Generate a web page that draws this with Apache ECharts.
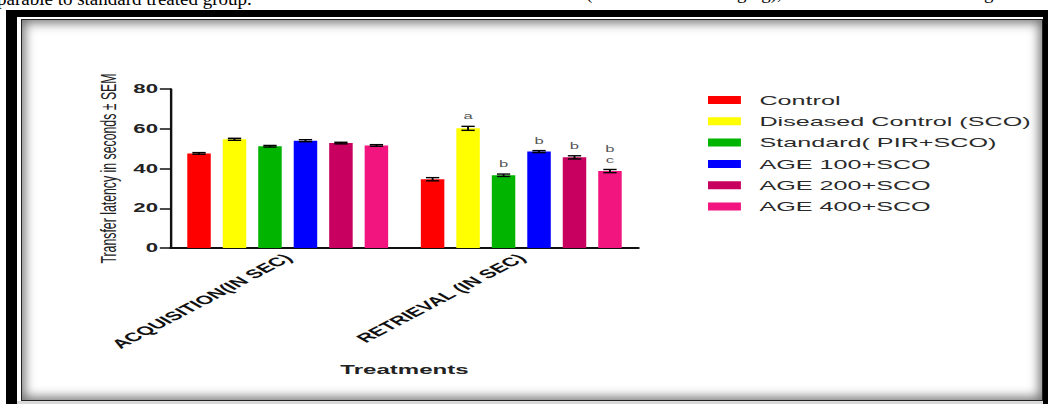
<!DOCTYPE html>
<html>
<head>
<meta charset="utf-8">
<script src="https://cdn.jsdelivr.net/npm/echarts@6/dist/echarts.min.js"></script>
<style>
  html, body { margin: 0; padding: 0; background: #fff; }
  body { width: 1048px; height: 404px; position: relative; overflow: hidden; }
  .txt { position: absolute; font-family: "Liberation Serif", "DejaVu Serif", serif; font-size: 19px; line-height: 19px; color: #000; white-space: nowrap; }
  #outer { position: absolute; left: 6px; top: 10px; right: 0; bottom: 0; background: #000; }
  #gap { position: absolute; left: 17px; top: 17px; right: 5px; bottom: 0; background: #fff; border-bottom: 3px solid #d9d9d9; box-sizing: border-box; }
  #panel { position: absolute; left: 21px; top: 19px; right: 5px; bottom: 3px; background: #fff;
           border: 1px solid #222; box-sizing: border-box;
           box-shadow: inset 0 0 11px 3px rgba(0,0,0,0.55); }
  #chart { position: absolute; left: 0; top: 0; width: 566.5px; height: 404px;
           transform: scaleX(1.85); transform-origin: 0 0; z-index: 2; }
</style>
</head>
<body>
<div class="txt" style="left:-3px; top:-11px;">parable to standard treated group.</div>
<div class="txt" style="left:586px; top:-17px;">(</div>
<div class="txt" style="left:737px; top:-17px;">ging),</div>
<div class="txt" style="left:984px; top:-17px;">g</div>
<div id="outer"></div>
<div id="gap"></div>
<div id="panel"></div>
<div id="chart"></div>
<script>
// Transfer latency (s, mean ± SEM) per treatment group
const categories = ['ACQUISITION(IN SEC)', 'RETRIEVAL (IN SEC)'];
const groupNames = ['Control', 'Diseased Control (SCO)', 'Standard( PIR+SCO)', 'AGE 100+SCO', 'AGE 200+SCO', 'AGE 400+SCO'];
const groupColors = ['#ff0000', '#ffff00', '#00b400', '#0000ff', '#c8005f', '#f2147f'];

const controlMean   = [47.6, 34.6];
const diseasedMean  = [54.7, 60.2];
const standardMean  = [51.2, 36.6];
const age100Mean    = [54.0, 48.5];
const age200Mean    = [52.8, 45.6];
const age400Mean    = [51.6, 38.7];

const controlSem    = [0.4, 0.8];
const diseasedSem   = [0.5, 1.0];
const standardSem   = [0.4, 0.6];
const age100Sem     = [0.5, 0.5];
const age200Sem     = [0.4, 0.8];
const age400Sem     = [0.4, 0.8];

// significance letters shown above the error bars
const controlSig    = ['', ''];
const diseasedSig   = ['', 'a'];
const standardSig   = ['', 'b'];
const age100Sig     = ['', 'b'];
const age200Sig     = ['', 'b'];
const age400Sig     = ['', 'b\nc'];

const yTicks = { min: 0, max: 80, interval: 20 };

const means = [controlMean, diseasedMean, standardMean, age100Mean, age200Mean, age400Mean];
const sems  = [controlSem, diseasedSem, standardSem, age100Sem, age200Sem, age400Sem];
const sigs  = [controlSig, diseasedSig, standardSig, age100Sig, age200Sig, age400Sig];

const BAR_W = 12.7;
const BAR_GAP = 0.51;
const STEP = BAR_W * (1 + BAR_GAP);
const FONT = '"Liberation Sans", Arial, sans-serif';

const chart = echarts.init(document.getElementById('chart'), null, { renderer: 'svg' });

const barSeries = groupNames.map((name, k) => ({
  name: name,
  type: 'bar',
  data: means[k],
  barWidth: BAR_W,
  barGap: (BAR_GAP * 100) + '%',
  itemStyle: { color: groupColors[k] },
  z: 2
}));

const errSeries = groupNames.map((name, k) => ({
  type: 'custom',
  z: 5,
  silent: true,
  data: categories.map((c, i) => [i, means[k][i], sems[k][i]]),
  renderItem: function (params, api) {
    const ci = api.value(0), v = api.value(1), e = api.value(2);
    const top = api.coord([ci, v + e]);
    const bot = api.coord([ci, v - e]);
    const x = top[0] + (k - 2.5) * STEP;
    const hw = 3.6;
    const stroke = { stroke: '#000', lineWidth: 1.4 };
    const children = [
      { type: 'line', shape: { x1: x, y1: top[1], x2: x, y2: bot[1] }, style: { stroke: '#000', lineWidth: 1 } },
      { type: 'line', shape: { x1: x - hw, y1: top[1], x2: x + hw, y2: top[1] }, style: stroke },
      { type: 'line', shape: { x1: x - hw, y1: bot[1], x2: x + hw, y2: bot[1] }, style: stroke }
    ];
    const letter = sigs[k][params.dataIndex];
    if (letter) {
      children.push({
        type: 'text',
        style: {
          text: letter, x: x, y: top[1] - 4.5,
          textAlign: 'center', textVerticalAlign: 'bottom',
          align: 'center', verticalAlign: 'bottom',
          fill: '#555', font: '9px ' + FONT, lineHeight: 11
        }
      });
    }
    return { type: 'group', children: children };
  }
}));

chart.setOption({
  backgroundColor: 'transparent',
  animation: false,
  grid: { left: 92.4, top: 89, width: 252.5, height: 159, containLabel: false },
  legend: {
    orient: 'vertical',
    left: 377.7,
    top: 87,
    itemWidth: 17.8,
    itemHeight: 8,
    itemGap: 5.3,
    icon: 'rect',
    selectedMode: false,
    data: groupNames,
    textStyle: { fontSize: 13.6, color: '#2a2a2a', fontFamily: FONT, lineHeight: 16, padding: [0, 0, 0, 5] }
  },
  xAxis: {
    type: 'category',
    data: categories,
    name: 'Treatments',
    nameLocation: 'middle',
    nameGap: 115,
    nameTextStyle: { fontSize: 13, fontWeight: 'bold', color: '#222', fontFamily: FONT },
    axisLine: { lineStyle: { color: '#111', width: 2 } },
    axisTick: { alignWithLabel: true, length: 5, lineStyle: { color: '#111', width: 1.2 } },
    axisLabel: { interval: 0, rotate: 44, margin: 8, fontSize: 12.3, fontWeight: 'bold', color: '#111', fontFamily: FONT },
    splitLine: { show: false }
  },
  yAxis: {
    type: 'value',
    min: yTicks.min,
    max: yTicks.max,
    interval: yTicks.interval,
    name: 'Transfer latency in seconds \u00b1 SEM',
    nameLocation: 'middle',
    nameGap: 28,
    nameTextStyle: { fontSize: 12.3, color: '#222', fontFamily: FONT },
    axisLine: { show: true, lineStyle: { color: '#111', width: 1.3 } },
    axisTick: { show: true, length: 6, lineStyle: { color: '#111', width: 1.5 } },
    axisLabel: { margin: 7, fontSize: 12, fontWeight: 'bold', color: '#222', fontFamily: FONT },
    splitLine: { show: false }
  },
  series: barSeries.concat(errSeries)
});
</script>
</body>
</html>
